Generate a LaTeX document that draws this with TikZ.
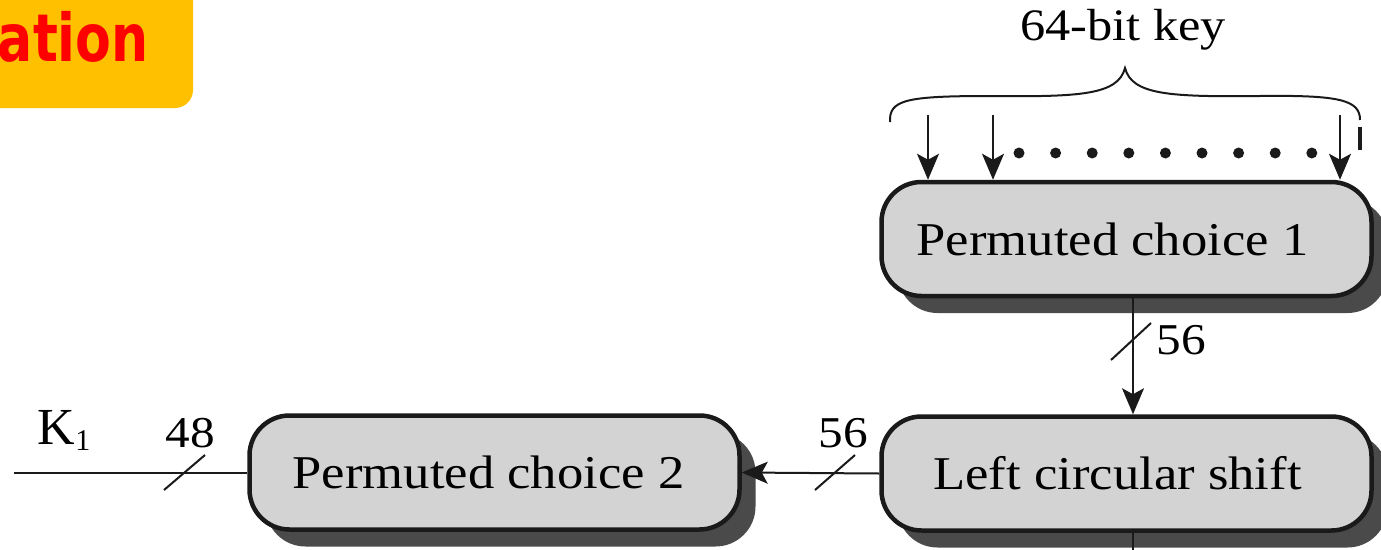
\documentclass[tikz,border=0pt]{standalone}
\usepackage{fontspec}
\setmainfont{Liberation Serif}
\newfontfamily\bannerfont{DejaVu Sans}
\usetikzlibrary{arrows.meta,shadows,calc}
\definecolor{bannerorange}{HTML}{FFC000}
\definecolor{bannerred}{HTML}{FF0000}
\definecolor{boxfill}{HTML}{D3D3D3}
\definecolor{shadowgray}{HTML}{4A4A4A}
\definecolor{inkline}{HTML}{1A1A1A}
\tikzset{
  box/.style={draw=inkline, line width=4.5pt, fill=boxfill, rounded corners=40pt,
    minimum width=490pt, minimum height=114pt, inner sep=0pt,
    drop shadow={shadow xshift=16pt, shadow yshift=-17pt, fill=shadowgray, opacity=1},
    font=\fontsize{47}{50}\selectfont},
  lbl/.style={inner sep=0pt, font=\fontsize{44}{48}\selectfont},
  conn/.style={draw=inkline, line width=2pt},
  arr/.style={conn, -{Stealth[length=26pt,width=22pt,inset=6pt]}},
  slashmark/.style={draw=inkline, line width=2pt},
  keydot/.style={circle, fill=inkline, minimum size=11pt, inner sep=0pt},
}
\newcommand{\wide}[1]{\scalebox{1.12}[1]{#1}}
\begin{document}
\begin{tikzpicture}[x=1pt,y=-1pt]
\useasboundingbox (0,0) rectangle (1381,549);
% banner
\begin{scope}
\clip (0,0) rectangle (1381,549);
\fill[bannerorange, rounded corners=18pt] (-40,-40) rectangle (193,108);
\node[anchor=base east, inner sep=0pt, text=bannerred, font=\bannerfont\bfseries\fontsize{66}{68}\selectfont] (title) at (149,61) {\scalebox{0.79}[1]{ation}};
\end{scope}
% boxes
\node[box] (pc1) at (1126.5,239) {\hspace*{-28pt}\wide{Permuted choice 1}};
\node[box] (lcs) at (1126.5,473.5) {\hspace*{-18pt}\wide{Left circular shift}};
\node[box] (pc2) at (494.5,472.5) {\hspace*{-12pt}\wide{Permuted choice 2}};
% key label and brace
\node[lbl, font=\fontsize{45}{48}\selectfont] (key) at (1123,30) {\wide{64-bit key}};
\draw[conn] (890,122) .. controls (889,100) and (905,96) .. (990,96)
  .. controls (1080,97) and (1118,95) .. (1125,68)
  .. controls (1132,95) and (1170,97) .. (1260,96)
  .. controls (1340,95) and (1360,100) .. (1360,120);
\draw[inkline, line width=4pt] (1360,127) -- (1360,150);
% key bit arrows
\coordinate (b1) at (928,115);
\coordinate (b2) at (993,115);
\coordinate (b3) at (1340,115);
\draw[arr] (b1) -- (b1 |- pc1.north);
\draw[arr] (b2) -- (b2 |- pc1.north);
\draw[arr] (b3) -- (b3 |- pc1.north);
\foreach \i in {0,...,8} {
  \node[keydot] (d\i) at ({1019+\i*36.6},153) {};
}
% pc1 -> lcs
\coordinate (v) at (1133,0);
\draw[arr] (v |- pc1.south) -- (v |- lcs.north);
\draw[slashmark] (1111,360) -- (1151,323);
\node[lbl] (n56a) at (1181,340) {\wide{56}};
% lcs -> pc2
\draw[arr] (lcs.west) -- (pc2.east);
\draw[slashmark] (815,490) -- (855,455);
\node[lbl] (n56b) at (843,433) {\wide{56}};
% lcs down
\coordinate (bot) at (1133,560);
\draw[conn] (v |- lcs.south) -- (bot);
% K1 output
\coordinate (kout) at (14,472);
\draw[conn] (pc2.west) -- (kout |- pc2.west);
\draw[slashmark] (164,490) -- (205,455);
\node[lbl] (n48) at (190,433) {\wide{48}};
\node[lbl, font=\fontsize{52}{54}\selectfont] (k1) at (64,430) {K\raisebox{-6pt}{\fontsize{30}{32}\selectfont 1}};
\end{tikzpicture}
\end{document}
